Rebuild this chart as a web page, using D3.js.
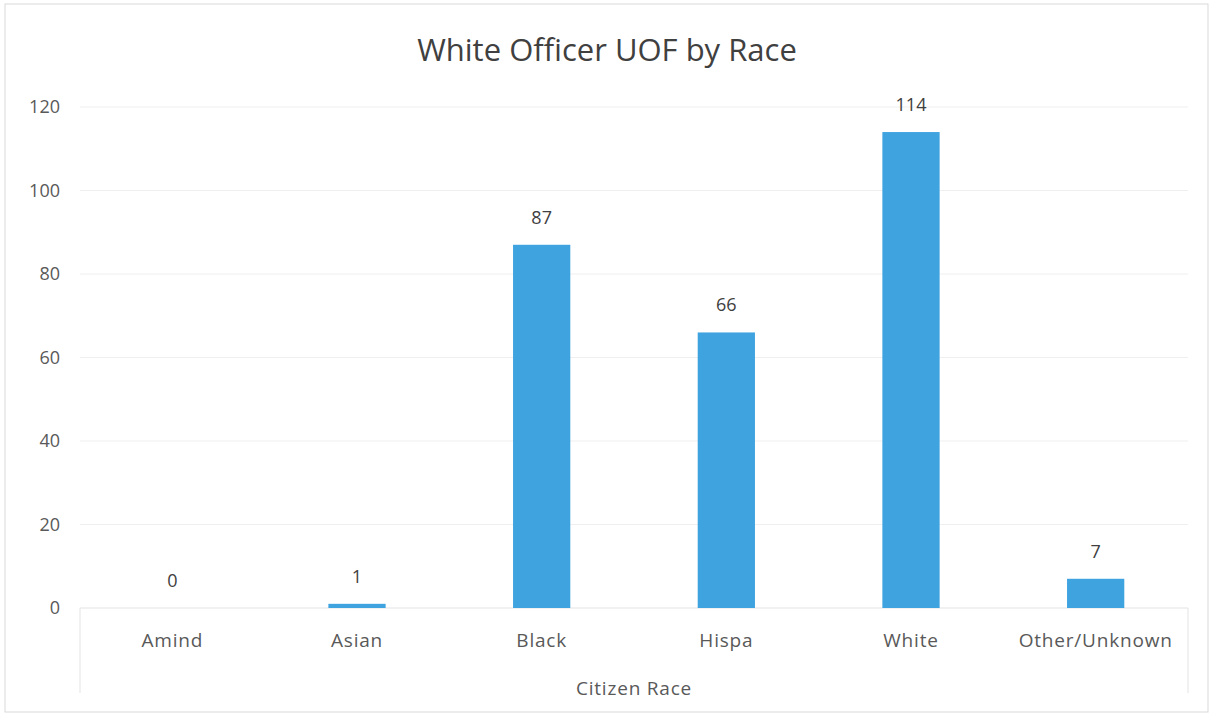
<!DOCTYPE html>
<html>
<head>
<meta charset="utf-8">
<script src="https://cdn.jsdelivr.net/npm/d3@7"></script>
<style>
  body { margin: 0; background: #fff; }
</style>
</head>
<body>
<div id="chart"></div>
<script>
// Chart data
const categories = ['Amind', 'Asian', 'Black', 'Hispa', 'White', 'Other/Unknown']
const values = [0, 1, 87, 66, 114, 7]
const yTicks = [0, 20, 40, 60, 80, 100, 120]

const width = 1213
const height = 714
const margin = {left: 80, right: 25, top: 107, bottom: 106}
const innerW = width - margin.left - margin.right
const innerH = height - margin.top - margin.bottom
const font = "'Open Sans', 'Noto Sans', sans-serif"

const svg = d3.select('#chart')
  .append('svg')
  .attr('width', width)
  .attr('height', height)
  .style('font-family', font)

// Outer border
svg.append('rect')
  .attr('x', 5).attr('y', 4)
  .attr('width', 1203).attr('height', 708)
  .style('fill', 'none')
  .style('stroke', '#d9d9d9')
  .style('stroke-width', 1)

// Title
svg.append('text')
  .attr('x', 607).attr('y', 61)
  .style('text-anchor', 'middle')
  .style('font-size', '31px')
  .style('fill', '#404040')
  .text('White Officer UOF by Race')

const x = d3.scaleBand()
  .domain(categories)
  .range([0, innerW])
  .paddingInner(0.69)
  .paddingOuter(0.345)

const y = d3.scaleLinear()
  .domain([0, 120])
  .range([innerH, 0])

const g = svg.append('g')
  .attr('transform', `translate(${margin.left},${margin.top})`)

// Gridlines
g.selectAll('.grid')
  .data(yTicks.filter(d => d > 0))
  .join('line')
  .attr('class', 'grid')
  .attr('x1', 0).attr('x2', innerW)
  .attr('y1', d => y(d)).attr('y2', d => y(d))
  .style('stroke', '#efefef')
  .style('stroke-width', 1)

// Left axis labels
const lAxis = g.append('g')
  .call(d3.axisLeft(y).tickValues(yTicks).tickSize(0).tickPadding(20))
lAxis.select('.domain').remove()
lAxis.selectAll('text')
  .style('font-family', font)
  .style('font-size', '18px')
  .style('fill', '#595959')

// Category axis box
g.append('line')
  .attr('x1', 0).attr('x2', innerW)
  .attr('y1', innerH).attr('y2', innerH)
  .style('stroke', '#e3e3e3')
g.append('line')
  .attr('x1', 0).attr('x2', 0)
  .attr('y1', innerH).attr('y2', innerH + 85)
  .style('stroke', '#e3e3e3')
g.append('line')
  .attr('x1', innerW).attr('x2', innerW)
  .attr('y1', innerH).attr('y2', innerH + 85)
  .style('stroke', '#e3e3e3')

const bAxis = g.append('g')
  .attr('transform', `translate(0,${innerH})`)
  .call(d3.axisBottom(x).tickSize(0).tickPadding(26))
bAxis.select('.domain').remove()
bAxis.selectAll('text')
  .style('font-family', font)
  .style('font-size', '19px')
  .style('letter-spacing', '0.8px')
  .style('fill', '#595959')

// Axis title
svg.append('text')
  .attr('x', margin.left + innerW / 2)
  .attr('y', 695)
  .style('text-anchor', 'middle')
  .style('font-size', '19px')
  .style('letter-spacing', '0.8px')
  .style('fill', '#595959')
  .text('Citizen Race')

// Bars
const data = categories.map((c, i) => ({label: c, value: values[i]}))

g.selectAll('.bar')
  .data(data)
  .join('rect')
  .attr('class', 'bar')
  .attr('x', d => x(d.label))
  .attr('y', d => y(d.value))
  .attr('width', x.bandwidth())
  .attr('height', d => innerH - y(d.value))
  .style('fill', '#3fa3e0')

// Data labels
g.selectAll('.barLabel')
  .data(data)
  .join('text')
  .attr('class', 'barLabel')
  .attr('x', d => x(d.label) + x.bandwidth() / 2)
  .attr('y', d => y(d.value) - 21)
  .style('text-anchor', 'middle')
  .style('font-size', '18px')
  .style('fill', '#404040')
  .text(d => d.value)
</script>
</body>
</html>
